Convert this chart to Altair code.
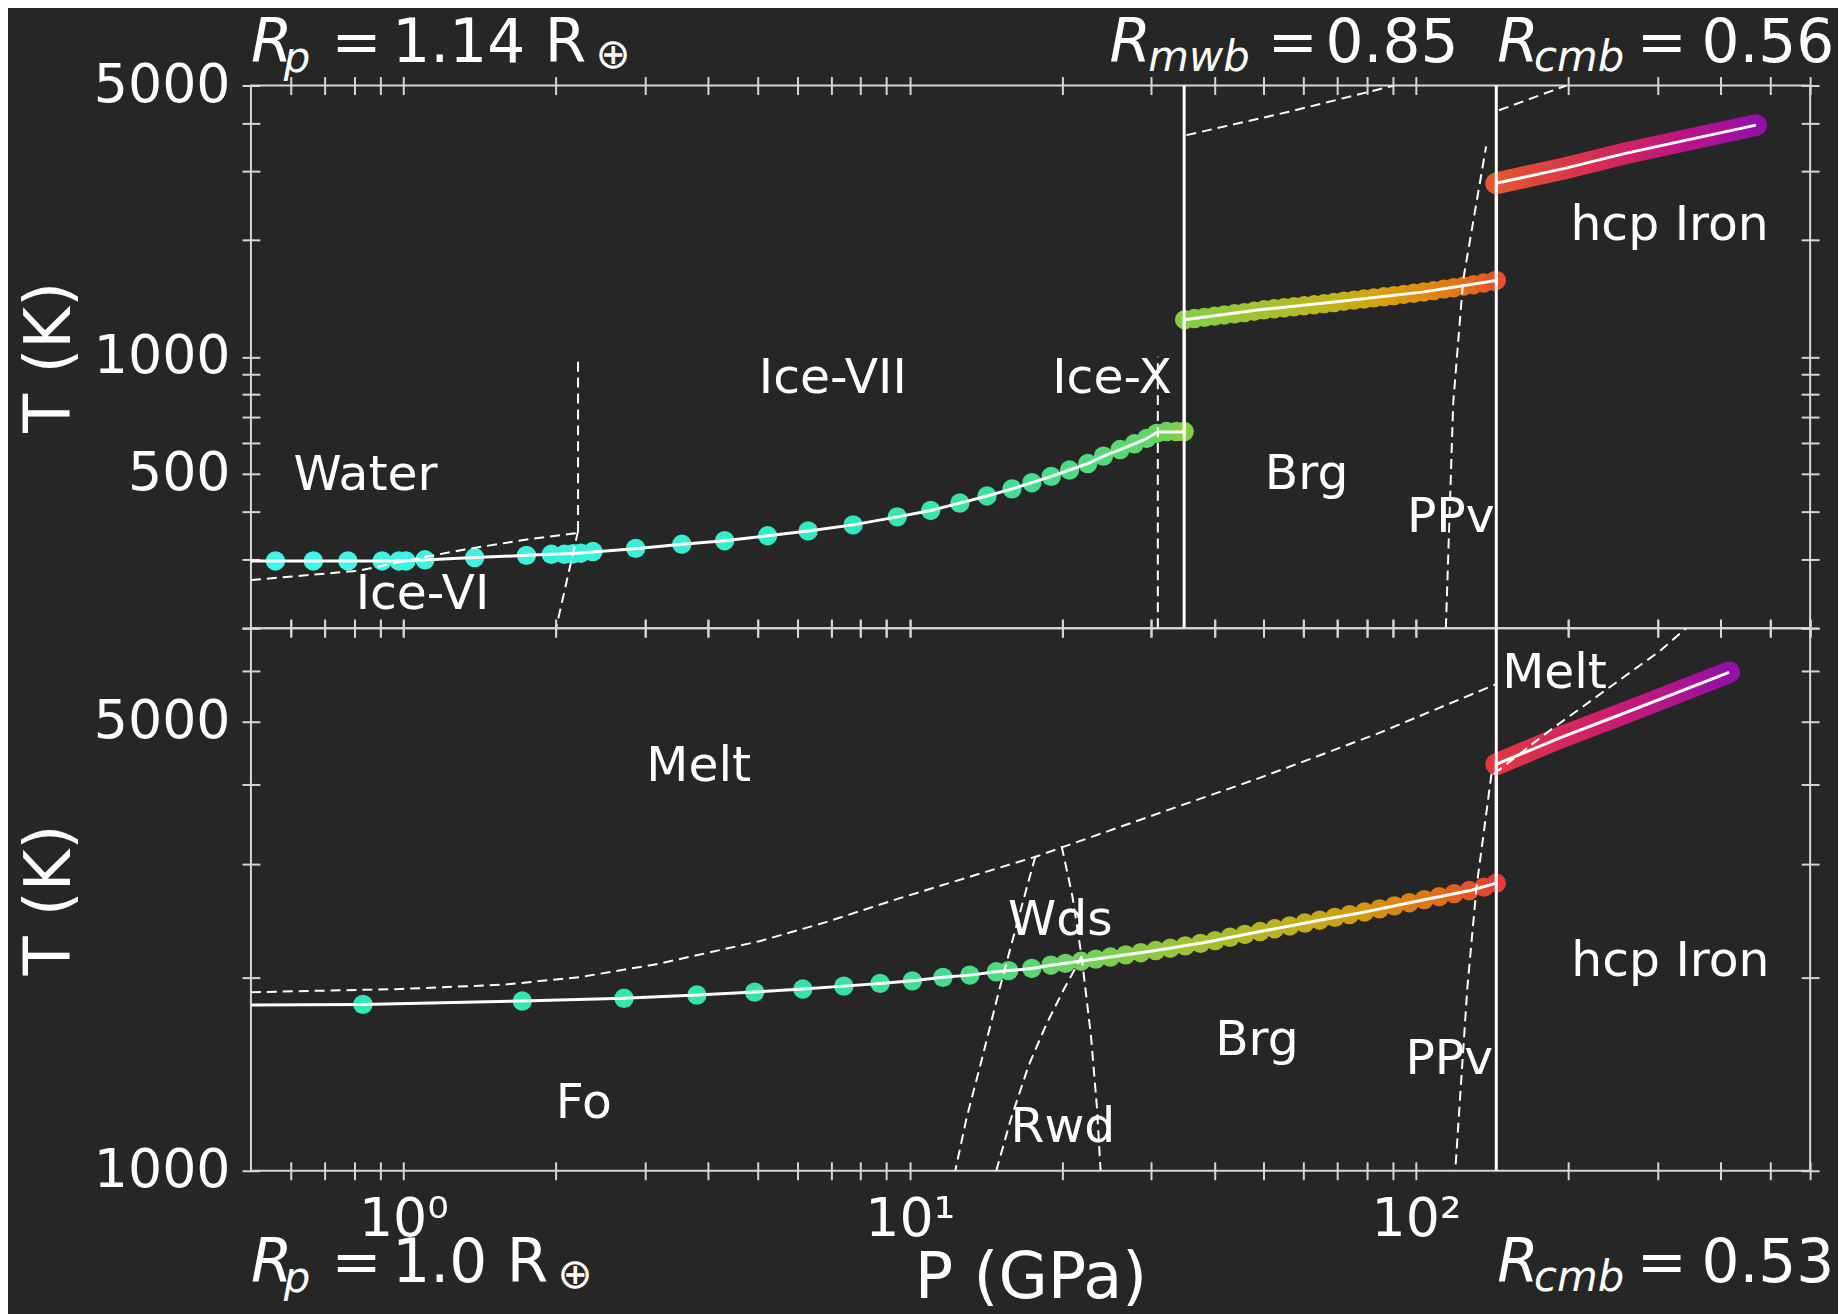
import altair as alt
import pandas as pd

FONT = "DejaVu Sans"
BG = "#262626"
FG = "#ffffff"
SPINE = "#d6d6d6"

# ---------------- axis ticks ----------------
x_tick_values = [0.6, 0.7, 0.8, 0.9, 1, 2, 3, 4, 5, 6, 7, 8, 9, 10, 20, 30, 40, 50, 60, 70, 80, 90,
                 100, 200, 300, 400, 500, 600]
top_y_ticks = [200, 300, 400, 500, 600, 700, 800, 900, 1000, 2000, 3000, 4000, 5000]
bot_y_ticks = [1000, 2000, 3000, 4000, 5000, 6000, 7000]

# ---------------- top planet (Rp = 1.14) ----------------
top_ice_P = [0.559, 0.664, 0.777, 0.908, 0.98, 1.012, 1.103, 1.383, 1.75, 1.96, 2.08, 2.165, 2.24, 2.368,
             2.876, 3.548, 4.31, 5.24, 6.30, 7.73, 9.45, 11.0, 12.56, 14.21, 15.92, 17.43, 19.03, 20.68,
             22.47, 24.13, 26.03, 27.77, 29.36, 30.72, 32.14, 33.63, 34.83]
top_ice_T = [298, 298, 298, 298, 298, 298, 300, 304, 308, 310, 310, 311, 312, 315,
             321, 329, 336, 346, 356, 369, 387, 402, 420, 438, 457, 474, 492, 511,
             531, 555, 577, 597, 616, 635, 642, 642, 642]
top_brg_P = [34.9, 36.5, 38.2, 40.0, 41.8, 43.8, 45.8, 47.9, 50.1, 52.5, 54.9, 57.4, 60.1, 62.9, 65.8,
             68.8, 72.0, 75.4, 78.9, 82.5, 86.4, 90.4, 94.5, 98.9, 103.5, 108.3, 113.4, 118.6, 124.1,
             129.9, 135.9, 142.2, 144.0]
top_brg_T = [1246, 1255, 1264, 1273, 1282, 1291, 1300, 1311, 1322, 1330, 1338, 1346, 1354, 1362, 1371,
             1380, 1391, 1400, 1409, 1419, 1428, 1438, 1448, 1458, 1469, 1481, 1494, 1507, 1520,
             1534, 1549, 1565, 1573]
top_line_P = [0.5, 1.0, 1.38, 1.75, 2.2, 2.9, 3.55, 4.31, 5.24, 6.3, 7.73, 9.45, 11.0, 12.56, 14.21,
              15.92, 17.43, 19.03, 20.68, 22.47, 24.13, 26.03, 27.77, 29.36, 30.9, 34.83, 34.83, 49.1,
              71.1, 102.8, 144, 144, 196.6, 259, 342, 469]
top_line_T = [298, 298, 304, 308, 312, 321, 329, 336, 346, 356, 369, 387, 402, 420, 438,
              457, 474, 492, 511, 531, 555, 577, 597, 616, 640, 640, 1246, 1322,
              1390, 1468, 1573, 2799, 3059, 3343, 3617, 3953]
top_iron_P = [144, 196.6, 259, 342, 469]
top_iron_T = [2799, 3059, 3343, 3617, 3953]
top_boundary_P = [34.83, 144]

# dashed phase boundaries (top)
water_melt_P = [0.5, 0.813, 1.088, 1.322, 1.77, 2.185, 2.213]
water_melt_T = [266, 281, 304, 319, 339, 351, 356]
ice6_7_P = [2.213, 2.003]
ice6_7_T = [356, 200]
ice7_melt_P = [2.213, 2.213]
ice7_melt_T = [356, 1000]
ice7_10_P = [30.9, 30.9]
ice7_10_T = [200, 1000]
ppv_top_P = [114.5, 118.4, 123.9, 137.5]
ppv_top_T = [200, 762, 1580, 3486]
mantle_melt_top_P = [35.2, 56.1, 90.5]
mantle_melt_top_T = [3725, 4279, 5000]
iron_melt_top_P = [145.8, 198.0]
iron_melt_top_T = [4317, 5000]

top_label_text = ["Water", "Ice-VI", "Ice-VII", "Ice-X", "Brg", "PPv", "hcp Iron"]
top_label_P = [0.842, 1.091, 7.05, 25.1, 60.8, 117.1, 316.7]
top_label_T = [496, 245, 882, 882, 499, 387, 2188]

# ---------------- bottom planet (Rp = 1.0) ----------------
bot_pts_P = [0.832, 1.717, 2.727, 3.80, 4.94, 6.15, 7.41, 8.74, 10.12, 11.63, 13.14, 14.82, 15.68, 17.42,
             19.0, 20.3, 21.8, 23.3, 24.9, 26.7, 28.6, 30.6, 32.7, 35.0, 37.5, 40.1, 42.9, 45.9, 49.2,
             52.6, 56.3, 60.3, 64.5, 69.1, 73.9, 79.1, 84.7, 90.6, 97.0, 103.8, 111.1, 118.9, 127.3,
             136.2, 144.0]
bot_pts_T = [1816, 1838, 1856, 1878, 1898, 1919, 1939, 1958, 1976, 2001, 2017, 2041, 2050, 2066,
             2090, 2104, 2120, 2136, 2152, 2169, 2186, 2203, 2221, 2240, 2260, 2283, 2310, 2334, 2358,
             2382, 2406, 2431, 2456, 2481, 2506, 2530, 2558, 2586, 2615, 2644, 2673, 2702, 2732,
             2765, 2805]
bot_line_P = [0.5, 0.832, 1.717, 2.727, 3.80, 4.94, 6.15, 7.41, 8.74, 10.12, 11.63, 13.14, 14.82, 17.42,
              19.0, 24.9, 30.6, 38.2, 49.2, 64.5, 76.4, 97.0, 128.5, 144, 144, 192.8, 253.6, 415]
bot_line_T = [1812, 1816, 1838, 1856, 1878, 1898, 1919, 1939, 1958, 1976, 2001, 2017, 2041, 2066,
              2090, 2152, 2203, 2267, 2358, 2456, 2515, 2615, 2735, 2805, 4295, 4729, 5136, 5973]
bot_iron_P = [144, 192.8, 253.6, 415]
bot_iron_T = [4295, 4729, 5136, 5973]
bot_boundary_P = [144]

melt_bot_P = [0.5, 0.988, 1.59, 2.234, 3.18, 5.05, 6.81, 9.53, 17.9, 19.9, 33.4, 49.1, 83.9, 144]
melt_bot_T = [1897, 1919, 1950, 2003, 2099, 2278, 2437, 2656, 3092, 3186, 3678, 4091, 4795, 5727]
fo_wds_P = [17.7, 16.4, 15.04, 13.88, 12.95, 12.3]
fo_wds_T = [3085, 2476, 1919, 1491, 1208, 1000]
wds_rwd_P = [14.82, 15.86, 17.18, 18.62, 20.17, 21.85]
wds_rwd_T = [1000, 1208, 1460, 1692, 1919, 2156]
post_spinel_P = [19.95, 20.94, 21.85, 22.8, 23.42, 23.82]
post_spinel_T = [3203, 2685, 2156, 1621, 1259, 1000]
ppv_bot_P = [140.9, 131.6, 126.2, 119.5]
ppv_bot_T = [4151, 2762, 1921, 1000]
iron_melt_bot_P = [142.4, 183.4, 302.7, 341.6]
iron_melt_bot_T = [4149, 4846, 6446, 7000]

bot_label_text = ["Melt", "Melt", "Wds", "Fo", "Rwd", "Brg", "PPv", "hcp Iron"]
bot_label_P = [3.83, 187.7, 19.83, 2.272, 20.07, 48.5, 116.3, 317.8]
bot_label_T = [4264, 5954, 2455, 1276, 1169, 1596, 1494, 2119]

# radius annotations: (text, size, italic, dx, dy)
top_left_text = [("R", 60, True, 0, 0), ("p", 42, True, 33, 10), ("=", 60, False, 81, 0),
                 ("1.14", 60, False, 142, 0), ("R", 60, False, 295, 0), ("⊕", 42, False, 346, 6)]
top_mwb_text = [("R", 60, True, -75, 0), ("mwb", 42, True, -36, 9), ("=", 60, False, 84, 0),
                ("0.85", 60, False, 142, 0)]
top_cmb_text = [("R", 60, True, 1, 0), ("cmb", 42, True, 38, 9), ("=", 60, False, 141, 0),
                ("0.56", 60, False, 206, 0)]
bot_left_text = [("R", 60, True, 0, 0), ("p", 42, True, 33, 10), ("=", 60, False, 81, 0),
                 ("1.0", 60, False, 142, 0), ("R", 60, False, 257, 0), ("⊕", 42, False, 308, 6)]
bot_cmb_text = [("R", 60, True, 1, 0), ("cmb", 42, True, 38, 9), ("=", 60, False, 141, 0),
                ("0.53", 60, False, 206, 0)]

# ---------------- helpers ----------------
xs = alt.Scale(type="log", domain=[0.5, 600], nice=False)
ys_top = alt.Scale(type="log", domain=[200, 5000], nice=False)
ys_bot = alt.Scale(type="log", domain=[1000, 7000], nice=False)

X_LABELS = "datum.value == 1 ? '10⁰' : datum.value == 10 ? '10¹' : datum.value == 100 ? '10²' : ''"


def xy(P, T):
    return pd.DataFrame({"P": P, "T": T, "i": list(range(len(P)))})


def segs(*pairs):
    rows = []
    for k, (P, T) in enumerate(pairs):
        for i, (p, t) in enumerate(zip(P, T)):
            rows.append({"seg": k, "i": i, "P": p, "T": t})
    return pd.DataFrame(rows)


def axis(orient, values, label_expr=None, **kw):
    opts = dict(orient=orient, values=values, offset=-9, tickSize=18, domain=False, grid=False,
                labelOverlap=False, labelFlush=False, labelBound=False)
    if label_expr is None:
        opts["labels"] = False
    else:
        opts["labelExpr"] = label_expr
    opts.update(kw)
    return alt.Axis(**opts)


def rtext(anchor_P, pieces, y_px):
    layers = []
    for txt, size, italic, dx, dy in pieces:
        d = pd.DataFrame({"P": [anchor_P], "s": [txt]})
        layers.append(
            alt.Chart(d).mark_text(align="left", baseline="alphabetic", fontSize=size,
                                   fontStyle="italic" if italic else "normal", font=FONT,
                                   color=FG, dx=dx, dy=dy)
            .encode(x=alt.X("P:Q", scale=xs, axis=None), y=alt.value(y_px), text="s:N")
        )
    return layers


def panel(ys, y_ticks, y_expr, pts, line, iron, iron_stops, dashes, rules, labels, rlayers,
          color_domain, color_range, bottom_axis):
    Xn = alt.X("P:Q", scale=xs, axis=None)
    Yn = alt.Y("T:Q", scale=ys, axis=None)
    points = alt.Chart(pts).mark_circle(size=380, opacity=1).encode(
        x=Xn, y=Yn,
        color=alt.Color("P:Q", legend=None,
                        scale=alt.Scale(type="log", domain=color_domain, range=color_range,
                                        interpolate="rgb")))
    iron_line = alt.Chart(iron).mark_line(
        stroke={"gradient": "linear", "x1": 0, "x2": 1, "y1": 0, "y2": 0,
                "stops": [{"offset": o, "color": c} for o, c in iron_stops]},
        strokeWidth=22, strokeCap="round", clip=True).encode(x=Xn, y=Yn, order="i:Q")
    if bottom_axis:
        xb = alt.X("P:Q", scale=xs, title="P (GPa)",
                   axis=axis("bottom", x_tick_values, X_LABELS, labelPadding=13, titlePadding=0))
    else:
        xb = alt.X("P:Q", scale=xs, title=None, axis=axis("bottom", x_tick_values))
    dashed = alt.Chart(dashes).mark_line(color=FG, strokeWidth=2, strokeDash=[10, 6], clip=True).encode(
        x=xb,
        y=alt.Y("T:Q", scale=ys, title="T (K)",
                axis=axis("left", y_ticks, y_expr, labelPadding=12, titlePadding=11)),
        detail="seg:N", order="i:Q")
    profile = alt.Chart(line).mark_line(color=FG, strokeWidth=3, clip=True).encode(
        x=alt.X("P:Q", scale=xs, title=None, axis=axis("top", x_tick_values)),
        y=alt.Y("T:Q", scale=ys, title=None, axis=axis("right", y_ticks)),
        order="i:Q")
    rule = alt.Chart(rules).mark_rule(color=FG, strokeWidth=3).encode(x=Xn)
    text = alt.Chart(labels).mark_text(fontSize=49, font=FONT, color=FG, align="center",
                                       baseline="middle").encode(x=Xn, y=Yn, text="label:N")
    return alt.layer(points, iron_line, dashed, profile, rule, text, *rlayers).resolve_axis(
        x="independent", y="independent").properties(width=1566, height=545)


top = panel(
    ys_top, top_y_ticks,
    "(datum.value == 500 || datum.value == 1000 || datum.value == 5000) ? format(datum.value, 'd') : ''",
    xy(top_ice_P + top_brg_P, top_ice_T + top_brg_T),
    xy(top_line_P, top_line_T),
    xy(top_iron_P, top_iron_T),
    [(0, "#e4582e"), (0.35, "#d8304e"), (0.7, "#c01482"), (1, "#9410a8")],
    segs((water_melt_P, water_melt_T), (ice6_7_P, ice6_7_T), (ice7_melt_P, ice7_melt_T),
         (ice7_10_P, ice7_10_T), (ppv_top_P, ppv_top_T), (mantle_melt_top_P, mantle_melt_top_T),
         (iron_melt_top_P, iron_melt_top_T)),
    pd.DataFrame({"P": top_boundary_P}),
    pd.DataFrame({"label": top_label_text, "P": top_label_P, "T": top_label_T}),
    rtext(0.5, top_left_text, -24) + rtext(34.83, top_mwb_text, -24) + rtext(144, top_cmb_text, -24),
    [0.5, 2.5, 8, 20, 30, 35, 60, 90, 125, 144],
    ["#42f6ea", "#3af0da", "#31e8bd", "#48dc88", "#62d668", "#82cf44", "#b4bb24", "#d9a00a", "#e27418", "#e3522c"],
    False,
)

bot = panel(
    ys_bot, bot_y_ticks,
    "(datum.value == 1000 || datum.value == 5000) ? format(datum.value, 'd') : ''",
    xy(bot_pts_P, bot_pts_T),
    xy(bot_line_P, bot_line_T),
    xy(bot_iron_P, bot_iron_T),
    [(0, "#e2383e"), (0.5, "#cc1c70"), (1, "#9410a8")],
    segs((melt_bot_P, melt_bot_T), (fo_wds_P, fo_wds_T), (wds_rwd_P, wds_rwd_T),
         (post_spinel_P, post_spinel_T), (ppv_bot_P, ppv_bot_T), (iron_melt_bot_P, iron_melt_bot_T)),
    pd.DataFrame({"P": bot_boundary_P}),
    pd.DataFrame({"label": bot_label_text, "P": bot_label_P, "T": bot_label_T}),
    rtext(0.5, bot_left_text, 657) + rtext(144, bot_cmb_text, 657),
    [0.5, 8, 15, 22, 35, 55, 80, 110, 144],
    ["#2fecbf", "#36e2a0", "#4fda80", "#72d05a", "#9cc436", "#bdb31c", "#d49610", "#e07018", "#e33c38"],
    True,
)

chart = alt.vconcat(top, bot, spacing=0, bounds="flush").resolve_scale(color="independent").properties(
    padding={"left": 9, "top": 2, "right": 2, "bottom": 2}
).configure(background=BG, font=FONT).configure_view(stroke=SPINE, strokeWidth=2).configure_axis(
    tickColor=SPINE, tickWidth=2, labelColor=FG, labelFont=FONT, labelFontSize=54,
    titleColor=FG, titleFont=FONT, titleFontSize=64, titleFontWeight="normal"
)

chart.save("out.html", embed_options={"renderer": "svg", "actions": False})
